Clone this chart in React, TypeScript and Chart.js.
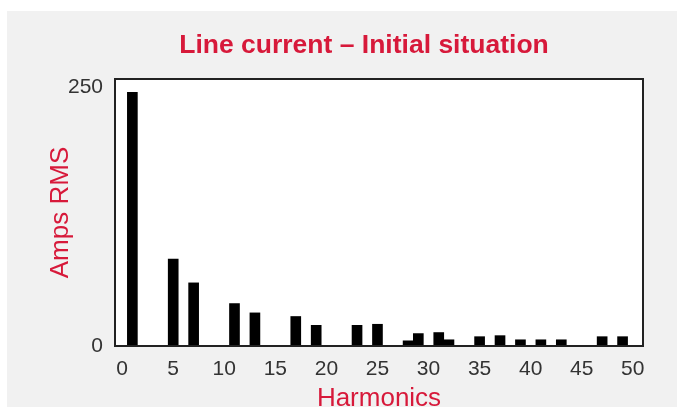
import React, { useEffect, useRef } from "react";
import { Chart, registerables } from "chart.js";

Chart.register(...registerables);

// ---- data ----
const harmonics = [1, 5, 7, 11, 13, 17, 19, 23, 25, 28, 29, 31, 32, 35, 37, 39, 41, 43, 47, 49];
const ampsRms = [245, 84, 61, 41, 32, 28.5, 20, 20, 21, 5, 12, 13, 6, 9, 10, 6, 6, 6, 9, 9];
const xTickValues = [0, 5, 10, 15, 20, 25, 30, 35, 40, 45, 50];
const yTickValues = [0, 250];
const chartTitle = "Line current – Initial situation";
const xAxisTitle = "Harmonics";
const yAxisTitle = "Amps RMS";

const RED = "#d7193a";
const FONT = "'Liberation Sans', Arial, Helvetica, sans-serif";

const panelPlugin = {
  id: "panelBg",
  beforeDraw(chart: any) {
    const { ctx, width, height, chartArea } = chart;
    ctx.save();
    ctx.fillStyle = "#ffffff";
    ctx.fillRect(0, 0, width, height);
    ctx.fillStyle = "#f1f1f1";
    ctx.fillRect(7, 11, width - 7, 396);
    ctx.fillStyle = "#ffffff";
    ctx.fillRect(chartArea.left, chartArea.top, chartArea.right - chartArea.left, chartArea.bottom - chartArea.top);
    ctx.restore();
  },
  afterLayout(chart: any) {
    const tb = chart.titleBlock;
    if (tb) {
      const cx = 364;
      tb.left = cx - 250;
      tb.right = cx + 250;
    }
  },
  afterDatasetsDraw(chart: any) {
    const { ctx, chartArea } = chart;
    ctx.save();
    ctx.strokeStyle = "#222222";
    ctx.lineWidth = 2;
    ctx.strokeRect(chartArea.left, chartArea.top, chartArea.right - chartArea.left, chartArea.bottom - chartArea.top);
    ctx.restore();
  },
};

export default function App() {
  const ref = useRef<HTMLCanvasElement | null>(null);

  useEffect(() => {
    if (!ref.current) return;
    const chart = new Chart(ref.current, {
      type: "bar",
      data: {
        datasets: [
          {
            label: yAxisTitle,
            data: harmonics.map((h, i) => ({ x: h, y: ampsRms[i] })),
            backgroundColor: "#000000",
            borderWidth: 0,
            barThickness: 10,
          },
        ],
      },
      plugins: [panelPlugin],
      options: {
        animation: false,
        responsive: false,
        devicePixelRatio: 1,
        layout: { padding: { top: 29.5, left: 40, right: 34, bottom: 0 } },
        plugins: {
          legend: { display: false },
          tooltip: { enabled: false },
          title: {
            display: true,
            text: chartTitle,
            color: RED,
            font: { family: FONT, size: 26.5, weight: "bold", lineHeight: 1.2 },
            padding: { top: 0, bottom: 17.7 },
          },
        },
        scales: {
          x: {
            type: "linear",
            min: -0.7,
            max: 51,
            offset: false,
            grid: { display: false, offset: false, drawTicks: false },
            border: { display: false },
            afterBuildTicks: (scale: any) => {
              scale.ticks = xTickValues.map((v) => ({ value: v }));
            },
            afterFit: (scale: any) => {
              scale.height = 63;
            },
            ticks: {
              color: "#333333",
              padding: 11,
              maxRotation: 0,
              autoSkip: false,
              font: { family: FONT, size: 21 },
            },
            title: {
              display: true,
              text: xAxisTitle,
              color: RED,
              font: { family: FONT, size: 26, lineHeight: 1 },
              padding: { top: 0, bottom: -3 },
            },
          },
          y: {
            type: "linear",
            min: 0,
            max: 258,
            grid: { display: false, drawTicks: false },
            border: { display: false },
            afterBuildTicks: (scale: any) => {
              scale.ticks = yTickValues.map((v) => ({ value: v }));
            },
            afterFit: (scale: any) => {
              scale.width = 75;
            },
            ticks: {
              color: "#333333",
              padding: 12,
              font: { family: FONT, size: 21 },
            },
            title: {
              display: true,
              text: yAxisTitle,
              color: RED,
              font: { family: FONT, size: 26, lineHeight: 1 },
              padding: { top: 8, bottom: 0 },
            },
          },
        },
      },
    } as any);
    return () => chart.destroy();
  }, []);

  return (
    <div style={{ position: "fixed", left: 0, top: 0, width: 677, height: 409 }}>
      <canvas ref={ref} width={677} height={409} style={{ display: "block", width: 677, height: 409 }} />
    </div>
  );
}
